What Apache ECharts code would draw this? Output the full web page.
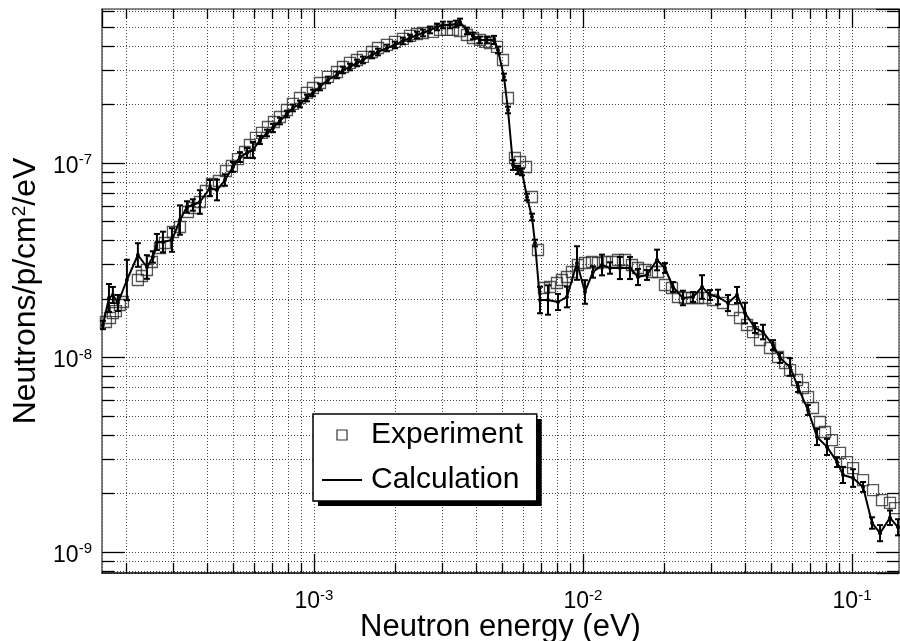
<!DOCTYPE html>
<html><head><meta charset="utf-8">
<script src="https://cdn.jsdelivr.net/npm/echarts@6/dist/echarts.min.js"></script>
<style>html,body{margin:0;padding:0;background:#fff}#c{width:900px;height:641px}</style>
</head><body><div id="c"></div><script>
// ---- data ----
const expE = [1.686e-4,1.745e-4,1.789e-4,1.836e-4,1.900e-4,1.950e-4,2.216e-4,2.294e-4,2.394e-4,2.499e-4,
 2.676e-4,2.793e-4,2.991e-4,3.176e-4,3.402e-4,3.580e-4,3.769e-4,3.967e-4,4.177e-4,4.435e-4,
 4.710e-4,4.957e-4,5.219e-4,5.541e-4,5.782e-4,6.087e-4,6.409e-4,6.745e-4,7.100e-4,7.474e-4,
 7.937e-4,8.354e-4,8.872e-4,9.419e-4,9.915e-4,1.053e-3,1.127e-3,1.218e-3,1.282e-3,1.361e-3,
 1.445e-3,1.521e-3,1.643e-3,1.729e-3,1.868e-3,2.001e-3,2.142e-3,2.275e-3,2.415e-3,2.542e-3,
 2.770e-3,2.941e-3,3.122e-3,3.287e-3,3.490e-3,3.706e-3,3.901e-3,4.141e-3,4.323e-3,4.512e-3,
 4.791e-3,5.042e-3,5.263e-3,5.588e-3,5.833e-3,6.140e-3,6.463e-3,6.804e-3,7.161e-3,7.539e-3,
 8.004e-3,8.354e-3,8.719e-3,9.101e-3,9.581e-3,1.017e-2,1.080e-2,1.137e-2,1.207e-2,1.282e-2,
 1.349e-2,1.433e-2,1.521e-2,1.601e-2,1.700e-2,1.805e-2,1.900e-2,2.017e-2,2.142e-2,2.255e-2,
 2.394e-2,2.542e-2,2.676e-2,2.842e-2,3.043e-2,3.315e-2,3.611e-2,3.834e-2,4.071e-2,4.285e-2,
 4.550e-2,4.957e-2,5.309e-2,5.636e-2,5.884e-2,6.246e-2,6.575e-2,6.863e-2,7.161e-2,7.603e-2,
 7.937e-2,8.426e-2,9.024e-2,9.581e-2,0.1009,0.1099,0.1197,0.1293,0.1384,0.1445];
const expV = [1.522e-8,1.596e-8,1.693e-8,1.733e-8,1.862e-8,1.929e-8,2.503e-8,2.624e-8,2.818e-8,3.097e-8,
 3.656e-8,3.878e-8,4.418e-8,4.688e-8,5.597e-8,5.869e-8,6.302e-8,7.178e-8,7.798e-8,8.082e-8,
 9.096e-8,9.651e-8,1.048e-7,1.139e-7,1.237e-7,1.345e-7,1.427e-7,1.531e-7,1.625e-7,1.724e-7,
 1.873e-7,2.011e-7,2.159e-7,2.291e-7,2.430e-7,2.578e-7,2.769e-7,2.937e-7,3.116e-7,3.268e-7,
 3.385e-7,3.508e-7,3.721e-7,3.902e-7,4.044e-7,4.190e-7,4.341e-7,4.498e-7,4.605e-7,4.660e-7,
 4.716e-7,4.829e-7,4.829e-7,4.829e-7,4.772e-7,4.551e-7,4.392e-7,4.290e-7,4.190e-7,4.140e-7,
 3.949e-7,3.385e-7,2.159e-7,1.061e-7,1.012e-7,9.537e-8,6.685e-8,3.570e-8,2.277e-8,2.304e-8,
 2.415e-8,2.503e-8,2.593e-8,2.752e-8,2.989e-8,3.060e-8,3.097e-8,3.060e-8,3.097e-8,3.097e-8,
 3.172e-8,3.172e-8,2.989e-8,2.885e-8,2.818e-8,2.752e-8,2.752e-8,2.359e-8,2.277e-8,2.047e-8,
 2.023e-8,2.023e-8,2.023e-8,2.023e-8,1.975e-8,1.906e-8,1.754e-8,1.596e-8,1.469e-8,1.352e-8,
 1.230e-8,1.119e-8,1.006e-8,9.37e-9,8.62e-9,7.66e-9,6.97e-9,6.26e-9,5.50e-9,4.66e-9,
 4.14e-9,3.76e-9,3.23e-9,2.90e-9,2.70e-9,2.34e-9,2.08e-9,1.85e-9,1.79e-9,1.68e-9];

const calcE = [1.643e-4,1.730e-4,1.789e-4,1.868e-4,2.017e-4,2.216e-4,2.394e-4,2.520e-4,2.608e-4,2.746e-4,
 2.966e-4,3.176e-4,3.373e-4,3.549e-4,3.769e-4,4.106e-4,4.360e-4,4.669e-4,5.0e-4,5.309e-4,
 5.636e-4,5.933e-4,6.300e-4,6.689e-4,7.040e-4,7.474e-4,7.937e-4,8.354e-4,8.872e-4,9.419e-4,
 9.915e-4,1.053e-3,1.127e-3,1.218e-3,1.282e-3,1.361e-3,1.445e-3,1.521e-3,1.643e-3,1.729e-3,
 1.868e-3,2.001e-3,2.142e-3,2.275e-3,2.415e-3,2.542e-3,2.699e-3,2.866e-3,3.017e-3,3.203e-3,
 3.373e-3,3.490e-3,3.706e-3,3.901e-3,4.141e-3,4.397e-3,4.669e-3,4.831e-3,5.086e-3,5.263e-3,
 5.494e-3,5.733e-3,5.933e-3,6.193e-3,6.463e-3,6.632e-3,6.921e-3,7.412e-3,8.073e-3,8.719e-3,
 9.500e-3,1.017e-2,1.089e-2,1.177e-2,1.260e-2,1.372e-2,1.495e-2,1.601e-2,1.729e-2,1.884e-2,
 2.017e-2,2.160e-2,2.353e-2,2.564e-2,2.770e-2,2.966e-2,3.176e-2,3.459e-2,3.737e-2,4.002e-2,
 4.359e-2,4.669e-2,5.086e-2,5.400e-2,5.884e-2,6.300e-2,6.863e-2,7.412e-2,8.073e-2,8.796e-2,
 9.259e-2,0.1009,0.1099,0.1187,0.1271,0.1384,0.1483];
const calcV = [1.469e-8,2.023e-8,2.096e-8,1.906e-8,2.503e-8,3.365e-8,2.919e-8,3.286e-8,3.924e-8,3.924e-8,
 4.018e-8,5.091e-8,5.940e-8,6.082e-8,6.302e-8,7.437e-8,7.263e-8,8.176e-8,9.537e-8,1.073e-7,
 1.126e-7,1.166e-7,1.313e-7,1.427e-7,1.513e-7,1.644e-7,1.786e-7,1.918e-7,2.011e-7,2.159e-7,
 2.291e-7,2.459e-7,2.672e-7,2.835e-7,3.007e-7,3.116e-7,3.268e-7,3.385e-7,3.592e-7,3.721e-7,
 3.902e-7,4.044e-7,4.240e-7,4.392e-7,4.551e-7,4.660e-7,4.829e-7,5.004e-7,5.124e-7,5.124e-7,
 5.185e-7,5.309e-7,4.772e-7,4.498e-7,4.290e-7,4.290e-7,4.290e-7,3.811e-7,2.769e-7,1.873e-7,
 9.766e-8,9.204e-8,8.990e-8,6.685e-8,5.277e-8,3.878e-8,1.975e-8,1.975e-8,1.929e-8,2.047e-8,
 3.060e-8,2.172e-8,2.752e-8,2.989e-8,2.885e-8,2.885e-8,2.885e-8,2.593e-8,2.655e-8,3.172e-8,
 2.885e-8,2.304e-8,2.023e-8,2.047e-8,2.304e-8,2.096e-8,2.047e-8,1.906e-8,2.096e-8,1.693e-8,
 1.418e-8,1.352e-8,1.159e-8,9.94e-9,8.94e-9,7.05e-9,5.37e-9,3.90e-9,3.47e-9,2.90e-9,
 2.49e-9,2.40e-9,2.16e-9,1.41e-9,1.25e-9,1.50e-9,1.34e-9];
// relative statistical error of the calculation
const calcErr = [0.05,0.18,0.10,0.10,0.27,0.15,0.15,0.07,0.10,0.13,
 0.15,0.19,0.07,0.07,0.15,0.10,0.13,0.07,0.06,0.06,
 0.06,0.10,0.05,0.04,0.05,0.04,0.04,0.04,0.04,0.04,
 0.04,0.04,0.04,0.04,0.04,0.04,0.04,0.04,0.04,0.04,
 0.04,0.04,0.04,0.04,0.04,0.04,0.04,0.04,0.04,0.04,
 0.04,0.04,0.04,0.04,0.04,0.04,0.05,0.04,0.04,0.04,
 0.06,0.05,0.04,0.04,0.04,0.04,0.17,0.19,0.10,0.13,
 0.22,0.15,0.07,0.13,0.07,0.14,0.14,0.10,0.06,0.13,
 0.06,0.06,0.09,0.06,0.15,0.06,0.09,0.10,0.10,0.13,
 0.06,0.09,0.06,0.06,0.11,0.06,0.06,0.10,0.10,0.06,
 0.10,0.11,0.06,0.07,0.10,0.09,0.10];

const xMin = 1.63e-4, xMax = 0.1495, yMin = 7.8e-10, yMax = 6.19e-7;
const xMinorTicks = [2e-4,3e-4,4e-4,5e-4,6e-4,7e-4,8e-4,9e-4,2e-3,3e-3,4e-3,5e-3,6e-3,7e-3,8e-3,9e-3,
 2e-2,3e-2,4e-2,5e-2,6e-2,7e-2,8e-2,9e-2];
const yMinorTicks = [8e-10,9e-10,2e-9,3e-9,4e-9,5e-9,6e-9,7e-9,8e-9,9e-9,2e-8,3e-8,4e-8,5e-8,6e-8,7e-8,8e-8,9e-8,
 2e-7,3e-7,4e-7,5e-7,6e-7];
const xTitle = 'Neutron energy (eV)';
const yTitle = 'Neutrons/p/cm{s|2}/eV';
const legendNames = ['Experiment', 'Calculation'];

// ---- chart ----
const FONT = 'Liberation Sans, Arial, Helvetica, sans-serif';
const chart = echarts.init(document.getElementById('c'), null, {renderer: 'canvas'});
const grid = {left: 102, right: 1, top: 9, bottom: 68, containLabel: false, outerBoundsMode: 'none'};
const dotted = {show: true, lineStyle: {type: [1, 2], color: '#444', width: 1}};
const labelRich = {
  b: {fontSize: 23, fontFamily: FONT, color: '#000', lineHeight: 28},
  s: {fontSize: 15, fontFamily: FONT, color: '#000', verticalAlign: 'top', lineHeight: 15}
};
function powLabel(v) {
  const e = Math.log10(v);
  if (Math.abs(e - Math.round(e)) > 1e-6) return '';
  return '{b|10}{s|' + Math.round(e) + '}';
}
function logAxis(pos, min, max, lineColor, extra) {
  const base = {type: 'log', logBase: 10, min: min, max: max, position: pos, gridIndex: 0,
    axisLine: {show: true, onZero: false, lineStyle: {color: lineColor, width: 1.5}},
    axisTick: {show: true, inside: true, length: 20, lineStyle: {color: '#000', width: 1.3}},
    axisLabel: {show: false}, splitLine: {show: false}, minorTick: {show: false}, minorSplitLine: {show: false},
    silent: true};
  return Object.assign(base, extra || {});
}
function minorTicks(vals, len, split) {
  return {axisLine: {show: false},
    axisTick: {show: true, inside: true, length: len, customValues: vals, lineStyle: {color: '#000', width: 1.3}},
    splitLine: split ? dotted : {show: false}};
}
const xAxes = [
  logAxis('bottom', xMin, xMax, '#000', {
    axisTick: {show: true, inside: true, length: 19, lineStyle: {color: '#000', width: 1.3}},
    axisLabel: {show: true, formatter: powLabel, rich: labelRich, margin: 15, showMinLabel: false, showMaxLabel: false},
    splitLine: dotted,
    name: xTitle, nameLocation: 'middle', nameGap: 39, nameMoveOverlap: false,
    nameTextStyle: {fontFamily: FONT, fontSize: 31, color: '#000'}
  }),
  logAxis('bottom', xMin, xMax, '#000', minorTicks(xMinorTicks, 10, true)),
  logAxis('top', xMin, xMax, '#666', {axisTick: {show: true, inside: true, length: 19, lineStyle: {color: '#000', width: 1.3}}}),
  logAxis('top', xMin, xMax, '#666', minorTicks(xMinorTicks, 10, false))
];
const yAxes = [
  logAxis('left', yMin, yMax, '#555', {
    axisTick: {show: true, inside: true, length: 23, lineStyle: {color: '#000', width: 1.3}},
    axisLabel: {show: true, formatter: powLabel, rich: labelRich, margin: 10, padding: [7, 0, 0, 0],
      showMinLabel: false, showMaxLabel: false},
    splitLine: dotted,
    name: yTitle, nameLocation: 'middle', nameGap: 56,
    nameTextStyle: {fontFamily: FONT, fontSize: 32, color: '#000',
      rich: {s: {fontSize: 19, fontFamily: FONT, color: '#000', verticalAlign: 'top', lineHeight: 19}}}
  }),
  logAxis('left', yMin, yMax, '#555', minorTicks(yMinorTicks, 12, true)),
  logAxis('right', yMin, yMax, '#666', {axisTick: {show: true, inside: true, length: 23, lineStyle: {color: '#000', width: 1.3}}}),
  logAxis('right', yMin, yMax, '#666', minorTicks(yMinorTicks, 12, false))
];

const expData = expE.map((e, i) => [e, expV[i]]);
const calcData = calcE.map((e, i) => [e, calcV[i]]);
const errData = calcE.map((e, i) => [e, calcV[i] / (1 + calcErr[i]), calcV[i] * (1 + calcErr[i])]);

const legendBase = {
  orient: 'vertical', left: 313, top: 414,
  symbolKeepAspect: true,
  itemWidth: 40, itemHeight: 10, itemGap: 15,
  padding: [6, 14, 6, 9],
  selectedMode: false
};
chart.setOption({
  animation: false,
  textStyle: {fontFamily: FONT},
  grid: grid,
  xAxis: xAxes,
  yAxis: yAxes,
  legend: [
    Object.assign({}, legendBase, {
      z: 10,
      data: [
        {name: legendNames[0], icon: 'path://M0,0H10V10H0Z', itemStyle: {color: '#fff', borderColor: '#000', borderWidth: 1.2}},
        {name: legendNames[1], icon: 'path://M0,0H40V2H0Z', itemStyle: {color: '#000', borderWidth: 0}}
      ],
      backgroundColor: '#fff', borderWidth: 0,
      shadowColor: '#000', shadowOffsetX: 5, shadowOffsetY: 5, shadowBlur: 0,
      textStyle: {fontFamily: FONT, fontSize: 30, color: '#000', padding: [0, 0, 0, 4]}
    }),
    Object.assign({}, legendBase, {
      z: 11,
      data: [
        {name: legendNames[0], icon: 'path://M0,0H10V10H0Z', itemStyle: {color: 'rgba(0,0,0,0)', borderColor: 'rgba(0,0,0,0)', borderWidth: 0}},
        {name: legendNames[1], icon: 'path://M0,0H40V2H0Z', itemStyle: {color: 'rgba(0,0,0,0)', borderWidth: 0}}
      ],
      backgroundColor: 'rgba(0,0,0,0)', borderColor: '#000', borderWidth: 1.5,
      textStyle: {fontFamily: FONT, fontSize: 30, color: 'rgba(0,0,0,0)', padding: [0, 0, 0, 4]}
    })
  ],
  series: [
    {name: legendNames[0], type: 'scatter', xAxisIndex: 0, yAxisIndex: 0, data: expData,
      symbol: 'rect', symbolSize: 11, z: 2,
      itemStyle: {color: 'rgba(0,0,0,0)', borderColor: '#2a2a2a', borderWidth: 1.3}},
    {name: 'CalcErr', type: 'custom', xAxisIndex: 0, yAxisIndex: 0, data: errData, z: 3,
      encode: {x: 0, y: [1, 2]},
      renderItem: function (params, api) {
        const x = api.value(0), lo = api.value(1), hi = api.value(2);
        const p1 = api.coord([x, lo]), p2 = api.coord([x, hi]);
        const w = 3, st = {stroke: '#000', lineWidth: 2};
        return {type: 'group', children: [
          {type: 'line', shape: {x1: p1[0], y1: p1[1], x2: p2[0], y2: p2[1]}, style: st},
          {type: 'line', shape: {x1: p1[0] - w, y1: p1[1], x2: p1[0] + w, y2: p1[1]}, style: st},
          {type: 'line', shape: {x1: p2[0] - w, y1: p2[1], x2: p2[0] + w, y2: p2[1]}, style: st}
        ]};
      }},
    {name: legendNames[1], type: 'line', xAxisIndex: 0, yAxisIndex: 0, data: calcData, z: 4,
      symbol: 'circle', symbolSize: 4, showSymbol: true, showAllSymbol: true, clip: true,
      itemStyle: {color: '#000'}, lineStyle: {color: '#000', width: 2}}
  ]
});
</script></body></html>
